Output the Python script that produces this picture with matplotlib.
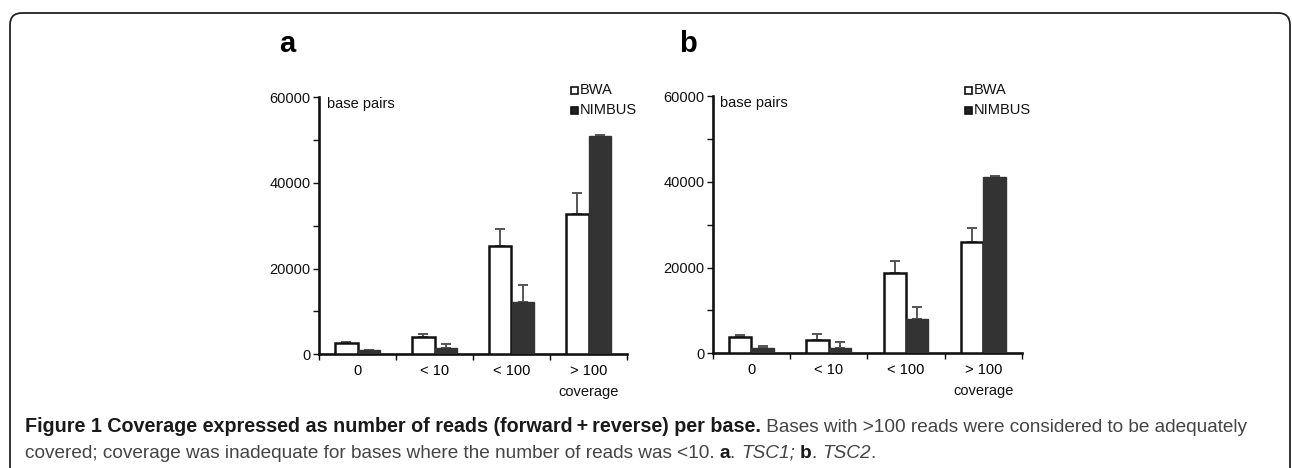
import matplotlib
matplotlib.use("Agg")
import matplotlib.pyplot as plt
import numpy as np
from matplotlib.patches import FancyBboxPatch, Rectangle
from matplotlib.transforms import IdentityTransform

# ---- data ----
categories = ["0", "< 10", "< 100", "> 100"]
series_names = ["BWA", "NIMBUS"]

bwa_a = [2700, 4000, 25300, 32800]
bwa_a_err = [150, 800, 4000, 4800]
nimbus_a = [1000, 1400, 12200, 51000]
nimbus_a_err = [100, 900, 3900, 100]

bwa_b = [3900, 3100, 18800, 25900]
bwa_b_err = [450, 1400, 2800, 3400]
nimbus_b = [1300, 1300, 8000, 41200]
nimbus_b_err = [400, 1400, 2900, 100]

y_ticks = [0, 20000, 40000, 60000]
y_minor = [10000, 30000, 50000]
panel_labels = ["a", "b"]

W, H = 1292, 468
fig = plt.figure(figsize=(W / 100, H / 100), dpi=100)
FONT = ["Liberation Sans", "DejaVu Sans"]
plt.rcParams["font.family"] = FONT
LBL = 10.5


def draw_panel(rect, bwa, bwa_err, nim, nim_err, legend_x):
    ax = fig.add_axes(rect)
    x = np.arange(len(categories))
    w = 0.29
    ax.bar(x - w / 2, bwa, w, color="white", edgecolor="#111111", linewidth=1.8, zorder=3)
    ax.bar(x + w / 2, nim, w, color="#333333", edgecolor="#333333", linewidth=1.0, zorder=3)
    ax.errorbar(x - w / 2, bwa, yerr=[np.zeros(len(bwa)), bwa_err], fmt="none",
                ecolor="#555555", elinewidth=1.4, capsize=3.5, capthick=1.4, zorder=2)
    ax.errorbar(x + w / 2, nim, yerr=[np.zeros(len(nim)), nim_err], fmt="none",
                ecolor="#555555", elinewidth=1.4, capsize=3.5, capthick=1.4, zorder=2)
    ax.set_xlim(-0.5, len(categories) - 0.5)
    ax.set_ylim(0, 60000)
    for s in ["top", "right"]:
        ax.spines[s].set_visible(False)
    for s in ["left", "bottom"]:
        ax.spines[s].set_linewidth(1.9)
        ax.spines[s].set_color("#111111")
    ax.set_yticks(y_ticks)
    ax.set_yticklabels([str(v) for v in y_ticks])
    ax.set_yticks(y_minor, minor=True)
    ax.tick_params(axis="y", which="both", direction="out", length=4, width=1.0,
                   labelsize=LBL, pad=2, colors="#111111")
    # x ticks at category boundaries, labels at centers
    ax.set_xticks(np.arange(len(categories) + 1) - 0.5)
    ax.set_xticklabels([])
    ax.set_xticks(x, minor=True)
    ax.set_xticklabels(categories, minor=True)
    ax.tick_params(axis="x", which="major", direction="out", length=4, width=1.0)
    ax.tick_params(axis="x", which="minor", length=0, labelsize=LBL, pad=7)
    ax.text(0.025, 0.975, "base pairs", transform=ax.transAxes, ha="left", va="center",
            fontsize=LBL, color="#111111")
    ax.text(3.0, -0.145, "coverage", transform=ax.get_xaxis_transform(), ha="center",
            va="center", fontsize=LBL, color="#111111")
    # legend (pixel coordinates, origin bottom-left)
    for i, (name, face) in enumerate(zip(series_names, ["white", "#222222"])):
        yc = 90 + 20 * i
        sq = Rectangle((legend_x, H - yc - 3.5), 7, 7, transform=IdentityTransform(),
                       facecolor=face, edgecolor="#111111", linewidth=1.2)
        fig.patches.append(sq)
        fig.text((legend_x + 9) / W, 1 - yc / H, name, fontsize=LBL, ha="left", va="center",
                 color="#111111")
    return ax


ax_a = draw_panel([319 / W, 1 - 354.3 / H, 308 / W, 257 / H], bwa_a, bwa_a_err,
                  nimbus_a, nimbus_a_err, 571)
ax_b = draw_panel([712.7 / W, 1 - 353.3 / H, 309.3 / W, 257 / H], bwa_b, bwa_b_err,
                  nimbus_b, nimbus_b_err, 965)

fig.text(287 / W, 1 - 44 / H, panel_labels[0], fontsize=21, fontweight="bold", ha="center", va="center")
fig.text(688 / W, 1 - 44 / H, panel_labels[1], fontsize=21, fontweight="bold", ha="center", va="center")

# rounded frame (pixel coordinates)
frame = FancyBboxPatch((10, -30), 1280, H - 13 + 30, boxstyle="round,pad=0,rounding_size=12",
                       transform=IdentityTransform(), fill=False, edgecolor="#222222",
                       linewidth=1.3)
fig.patches.append(frame)

# caption, drawn piece by piece
CAP_FONT = ["Liberation Sans", "DejaVu Sans"]
cap_size = 13.7
bold_size = 14.2
bold_col = "#1a1a1a"
norm_col = "#444444"
line1 = [("Figure 1 Coverage expressed as number of reads (forward\u2009+\u2009reverse) per base.", "bold", "normal", bold_col, bold_size),
         (" Bases with >100 reads were considered to be adequately", "normal", "normal", norm_col, cap_size)]
line2 = [("covered; coverage was inadequate for bases where the number of reads was <10. ", "normal", "normal", norm_col, cap_size),
         ("a", "bold", "normal", bold_col, cap_size), (". ", "normal", "normal", norm_col, cap_size),
         ("TSC1;", "normal", "italic", norm_col, cap_size), (" ", "normal", "normal", norm_col, cap_size),
         ("b", "bold", "normal", bold_col, cap_size), (". ", "normal", "normal", norm_col, cap_size),
         ("TSC2", "normal", "italic", norm_col, cap_size), (".", "normal", "normal", norm_col, cap_size)]

fig.canvas.draw()
renderer = fig.canvas.get_renderer()
for line, ypix in [(line1, 427), (line2, 453)]:
    xpix = 25
    for txt, wt, st, col, sz in line:
        t = fig.text(xpix / W, 1 - ypix / H, txt, fontsize=sz, fontweight=wt, fontstyle=st,
                     color=col, ha="left", va="center", family=CAP_FONT)
        bb = t.get_window_extent(renderer=renderer)
        xpix += bb.width

fig.savefig("out.png", dpi=100)
